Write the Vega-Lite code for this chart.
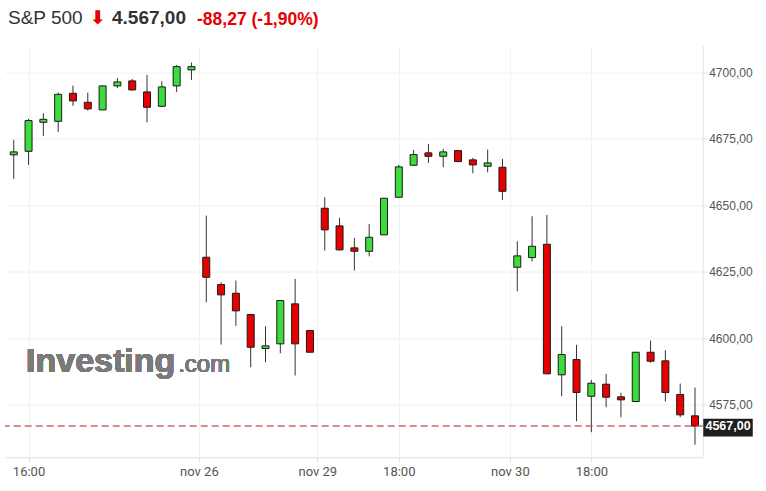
{
  "$schema": "https://vega.github.io/schema/vega-lite/v6.json",
  "background": "white",
  "padding": {"left": 4, "top": 9, "right": 0, "bottom": 0},
  "config": {
    "view": {"stroke": null},
    "title": {"anchor": "start", "baseline": "alphabetic", "offset": 4, "font": "Liberation Sans"}
  },
  "spacing": 12.5,
  "vconcat": [
    {
      "spacing": 6,
      "hconcat": [
        {"width": 1, "height": 1, "data": {"values": []}, "mark": "text",
         "title": {"text": "S&P 500", "fontSize": 19, "fontWeight": "normal", "color": "#333333", "dx": 3}},
        {"width": 1, "height": 1, "data": {"values": []}, "mark": "text",
         "title": {"text": "⬇", "font": "DejaVu Sans", "fontSize": 19, "fontWeight": "bold", "color": "#e60000", "dx": 1}},
        {"width": 1, "height": 1, "data": {"values": []}, "mark": "text",
         "title": {"text": "4.567,00", "fontSize": 19, "fontWeight": "bold", "color": "#333333"}},
        {"width": 1, "height": 1, "data": {"values": []}, "mark": "text",
         "title": {"text": "-88,27  (-1,90%)", "fontSize": 17.5, "fontWeight": "bold", "color": "#e60000", "dx": 5}}
      ]
    },
    {
      "width": 697.7,
      "height": 411.7,
      "data": {"values": [
        {"i":0,"o":4668.90,"h":4674.53,"l":4659.88,"c":4670.02},
        {"i":1,"o":4670.25,"h":4682.42,"l":4665.14,"c":4681.78},
        {"i":2,"o":4681.14,"h":4684.52,"l":4676.03,"c":4682.27},
        {"i":3,"o":4681.52,"h":4692.30,"l":4677.54,"c":4691.66},
        {"i":4,"o":4692.04,"h":4694.93,"l":4687.30,"c":4689.18},
        {"i":5,"o":4688.66,"h":4692.30,"l":4685.54,"c":4686.18},
        {"i":6,"o":4685.80,"h":4694.93,"l":4685.80,"c":4694.82},
        {"i":7,"o":4694.82,"h":4697.82,"l":4694.06,"c":4696.32},
        {"i":8,"o":4696.69,"h":4697.45,"l":4693.05,"c":4693.31},
        {"i":9,"o":4692.56,"h":4698.95,"l":4681.14,"c":4686.78},
        {"i":10,"o":4687.15,"h":4696.54,"l":4687.04,"c":4694.44},
        {"i":11,"o":4694.82,"h":4702.70,"l":4692.56,"c":4702.07},
        {"i":12,"o":4700.83,"h":4703.57,"l":4697.07,"c":4702.07},
        {"i":13,"o":4630.43,"h":4646.09,"l":4613.52,"c":4622.91},
        {"i":14,"o":4620.17,"h":4621.04,"l":4597.63,"c":4616.30},
        {"i":15,"o":4616.90,"h":4621.67,"l":4604.66,"c":4610.29},
        {"i":16,"o":4608.90,"h":4609.17,"l":4589.10,"c":4596.62},
        {"i":17,"o":4596.13,"h":4604.51,"l":4590.98,"c":4597.14},
        {"i":18,"o":4597.90,"h":4614.16,"l":4594.36,"c":4614.16},
        {"i":19,"o":4612.92,"h":4622.31,"l":4585.99,"c":4597.90},
        {"i":20,"o":4602.89,"h":4602.89,"l":4594.74,"c":4594.74},
        {"i":21,"o":4648.84,"h":4652.97,"l":4632.94,"c":4640.72},
        {"i":22,"o":4642.22,"h":4645.23,"l":4632.94,"c":4633.21},
        {"i":23,"o":4633.96,"h":4637.72,"l":4625.43,"c":4632.68},
        {"i":24,"o":4632.68,"h":4642.97,"l":4630.80,"c":4637.94},
        {"i":25,"o":4638.84,"h":4652.59,"l":4638.84,"c":4652.59},
        {"i":26,"o":4652.97,"h":4665.14,"l":4652.97,"c":4664.39},
        {"i":27,"o":4664.99,"h":4670.77,"l":4664.88,"c":4669.01},
        {"i":28,"o":4669.65,"h":4673.03,"l":4665.89,"c":4668.37},
        {"i":29,"o":4668.37,"h":4671.15,"l":4664.24,"c":4670.02},
        {"i":30,"o":4670.51,"h":4670.51,"l":4666.38,"c":4666.38},
        {"i":31,"o":4667.02,"h":4667.77,"l":4661.98,"c":4665.14},
        {"i":32,"o":4664.61,"h":4670.89,"l":4662.36,"c":4665.89},
        {"i":33,"o":4664.24,"h":4667.39,"l":4651.99,"c":4655.22},
        {"i":34,"o":4626.67,"h":4636.44,"l":4617.66,"c":4630.95},
        {"i":35,"o":4630.31,"h":4645.83,"l":4628.81,"c":4634.56},
        {"i":36,"o":4635.31,"h":4646.36,"l":4586.63,"c":4586.63},
        {"i":37,"o":4586.25,"h":4604.51,"l":4578.21,"c":4593.88},
        {"i":38,"o":4592.00,"h":4597.52,"l":4568.82,"c":4579.60},
        {"i":39,"o":4578.21,"h":4584.37,"l":4564.69,"c":4583.10},
        {"i":40,"o":4582.72,"h":4586.63,"l":4574.08,"c":4577.84},
        {"i":41,"o":4577.99,"h":4579.49,"l":4570.32,"c":4576.86},
        {"i":42,"o":4576.22,"h":4594.74,"l":4576.22,"c":4594.74},
        {"i":43,"o":4594.74,"h":4599.14,"l":4590.76,"c":4591.36},
        {"i":44,"o":4591.51,"h":4595.49,"l":4576.22,"c":4579.60},
        {"i":45,"o":4578.85,"h":4582.98,"l":4570.32,"c":4571.22},
        {"i":46,"o":4570.85,"h":4581.48,"l":4559.95,"c":4567.00}
      ]},
      "layer": [
        {
          "mark": {"type": "text", "font": "Liberation Sans", "fontWeight": "bold", "fontSize": 34, "color": "#7a7a7a", "align": "left", "baseline": "alphabetic"},
          "encoding": {
            "x": {"datum": 0.83, "type": "quantitative", "scale": {"domain": [-0.59, 46.52], "nice": false, "zero": false, "padding": 0},
                  "axis": {"values": [1, 12.5, 20.5, 26, 33.5, 39],
                           "labelExpr": "datum.value == 1 ? '16:00' : datum.value == 12.5 ? 'nov 26' : datum.value == 20.5 ? 'nov 29' : datum.value == 26 ? '18:00' : datum.value == 33.5 ? 'nov 30' : '18:00'",
                           "title": null, "grid": true, "gridColor": "#f2f2f2", "domainColor": "#e0e0e0", "tickColor": "#e0e0e0", "tickSize": 5,
                           "labelFont": "Roboto", "labelFontSize": 13, "labelColor": "#555555", "labelPadding": 3, "labelFlush": false}},
            "y": {"datum": 4587.2, "type": "quantitative", "scale": {"domain": [4555.3, 4710], "nice": false, "zero": false, "padding": 0},
                  "axis": {"orient": "right", "values": [4575, 4600, 4625, 4650, 4675, 4700],
                           "labelExpr": "replace(format(datum.value, '.2f'), '.', ',')",
                           "title": null, "grid": true, "gridColor": "#f0f0f0", "domainColor": "#e0e0e0", "tickColor": "#e0e0e0", "tickSize": 4,
                           "labelFont": "Liberation Sans", "labelFontSize": 12, "labelColor": "#555555", "labelPadding": 2}},
            "text": {"value": "Investing"}
          }
        },
        {
          "mark": {"type": "text", "font": "Liberation Sans", "fontSize": 24, "color": "#7a7a7a", "align": "left", "baseline": "alphabetic"},
          "encoding": {
            "x": {"datum": 11.1, "type": "quantitative", "scale": {"domain": [-0.59, 46.52], "nice": false, "zero": false, "padding": 0}},
            "y": {"datum": 4587.2, "type": "quantitative", "scale": {"domain": [4555.3, 4710], "nice": false, "zero": false, "padding": 0}},
            "text": {"value": ".com"}
          }
        },
        {
          "mark": {"type": "rule", "color": "#333333", "strokeWidth": 1},
          "encoding": {
            "x": {"field": "i", "type": "quantitative", "scale": {"domain": [-0.59, 46.52], "nice": false, "zero": false, "padding": 0}},
            "y": {"field": "l", "type": "quantitative", "scale": {"domain": [4555.3, 4710], "nice": false, "zero": false, "padding": 0}},
            "y2": {"field": "h"}
          }
        },
        {
          "mark": {"type": "bar", "size": 7, "stroke": "#1a1a1a", "strokeWidth": 1},
          "encoding": {
            "x": {"field": "i", "type": "quantitative", "scale": {"domain": [-0.59, 46.52], "nice": false, "zero": false, "padding": 0}},
            "y": {"field": "o", "type": "quantitative", "scale": {"domain": [4555.3, 4710], "nice": false, "zero": false, "padding": 0}},
            "y2": {"field": "c"},
            "color": {"condition": {"test": "datum.c >= datum.o", "value": "#3ddc3d"}, "value": "#e80000"}
          }
        },
        {
          "data": {"values": [{"p": 4567, "label": "4567,00"}]},
          "mark": {"type": "rule", "color": "#c0504d", "strokeWidth": 1.5, "strokeDash": [7, 4], "opacity": 0.85},
          "encoding": {
            "y": {"field": "p", "type": "quantitative", "scale": {"domain": [4555.3, 4710], "nice": false, "zero": false, "padding": 0}}
          }
        },
        {
          "data": {"values": [{"p": 4567, "label": "4567,00"}]},
          "mark": {"type": "rect", "color": "#1e1e1e"},
          "encoding": {
            "x": {"datum": 46.56, "type": "quantitative", "scale": {"domain": [-0.59, 46.52], "nice": false, "zero": false, "padding": 0}},
            "x2": {"datum": 49.9},
            "y": {"datum": 4569.72, "type": "quantitative", "scale": {"domain": [4555.3, 4710], "nice": false, "zero": false, "padding": 0}},
            "y2": {"datum": 4563.07}
          }
        },
        {
          "data": {"values": [{"p": 4567, "label": "4567,00"}]},
          "mark": {"type": "text", "font": "Liberation Sans", "fontWeight": "bold", "fontSize": 12.5, "color": "white", "align": "center", "baseline": "middle"},
          "encoding": {
            "x": {"datum": 48.23, "type": "quantitative", "scale": {"domain": [-0.59, 46.52], "nice": false, "zero": false, "padding": 0}},
            "y": {"field": "p", "type": "quantitative", "scale": {"domain": [4555.3, 4710], "nice": false, "zero": false, "padding": 0}},
            "text": {"field": "label"}
          }
        }
      ]
    }
  ]
}
